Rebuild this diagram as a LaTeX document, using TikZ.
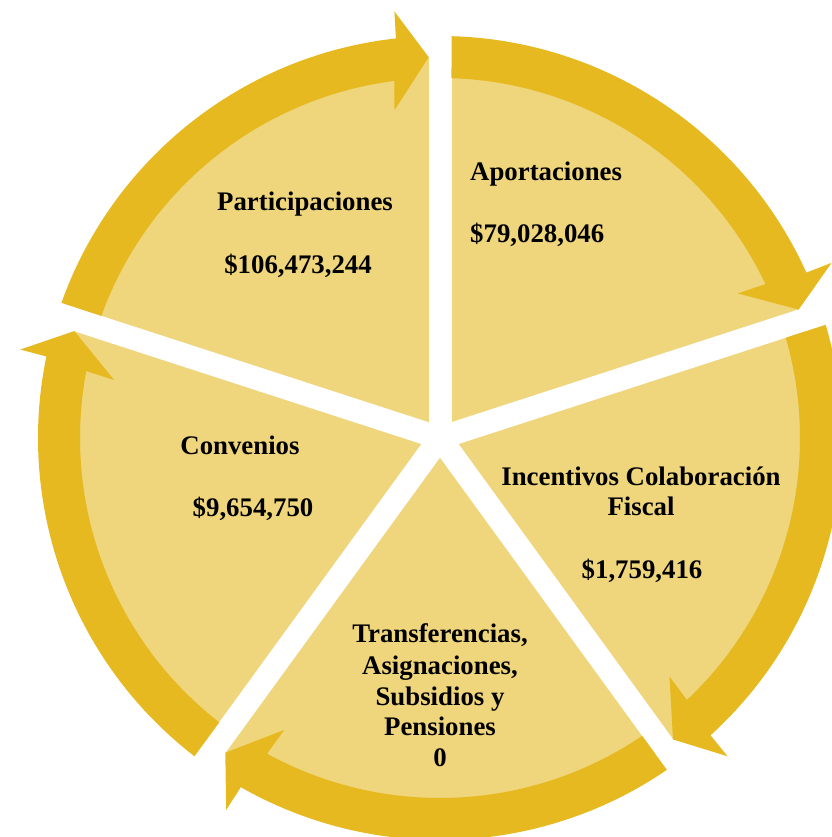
\documentclass[tikz,border=0pt]{standalone}
\usepackage{fontspec}
\setmainfont{Liberation Serif}
\definecolor{dk}{RGB}{230,185,32}
\definecolor{lt}{RGB}{239,213,123}
\tikzset{
  lbl/.style={font=\fontsize{26.8}{31}\selectfont\bfseries, inner sep=0pt, anchor=base},
  lblw/.style={lbl, anchor=base west},
  gapline/.style={white, line width=23},
  band/.style={fill=dk}
}
\begin{document}
\begin{tikzpicture}[x=1pt,y=1pt]
\useasboundingbox (0,0) rectangle (831,837);
\begin{scope}[shift={(440,399)}]
  \fill[lt] (0,0) circle[radius=381];
  \foreach \g in {90,18,-54,-126,162} \draw[gapline] (0,0) -- (\g:450);
  \foreach \h in {90,18,-54,-126,-198} {
    \pgfmathsetmacro\t{\h+1.7}
    \pgfmathsetmacro\ta{\h+72-1.64}
    \pgfmathsetmacro\tb{\h+72-1.83}
    \pgfmathsetmacro\pa{\t+4.6}
    \pgfmathsetmacro\pb{\t+4.4}
    \pgfmathsetmacro\pc{\t+6.2}
    \pgfmathsetmacro\pd{\t+5.6}
    \path[band] (\ta:402) arc[start angle=\ta, end angle=\pa, radius=402]
      -- (\pb:429) -- (\t:381) -- (\pc:331) -- (\pd:360)
      arc[start angle=\pd, end angle=\tb, radius=360] -- cycle;
  }
\end{scope}
\node[lbl] (part) at (305,626) {Participaciones};
\node[lbl] (partv) at (298,563) {\$106,473,244};
\node[lblw] (apor) at (470,656) {Aportaciones};
\node[lblw] (aporv) at (470,594) {\$79,028,046};
\node[lbl] (inc1) at (641,351) {Incentivos Colaboración};
\node[lbl] (inc2) at (641,321) {Fiscal};
\node[lbl] (incv) at (642,258) {\$1,759,416};
\node[lbl] (tr1) at (440,194) {Transferencias,};
\node[lbl] (tr2) at (440,162) {Asignaciones,};
\node[lbl] (tr3) at (440,131) {Subsidios y};
\node[lbl] (tr4) at (440,101) {Pensiones};
\node[lbl] (trv) at (440,70) {0};
\node[lbl] (conv) at (240,382) {Convenios};
\node[lbl] (convv) at (253,320) {\$9,654,750};
\end{tikzpicture}
\end{document}
